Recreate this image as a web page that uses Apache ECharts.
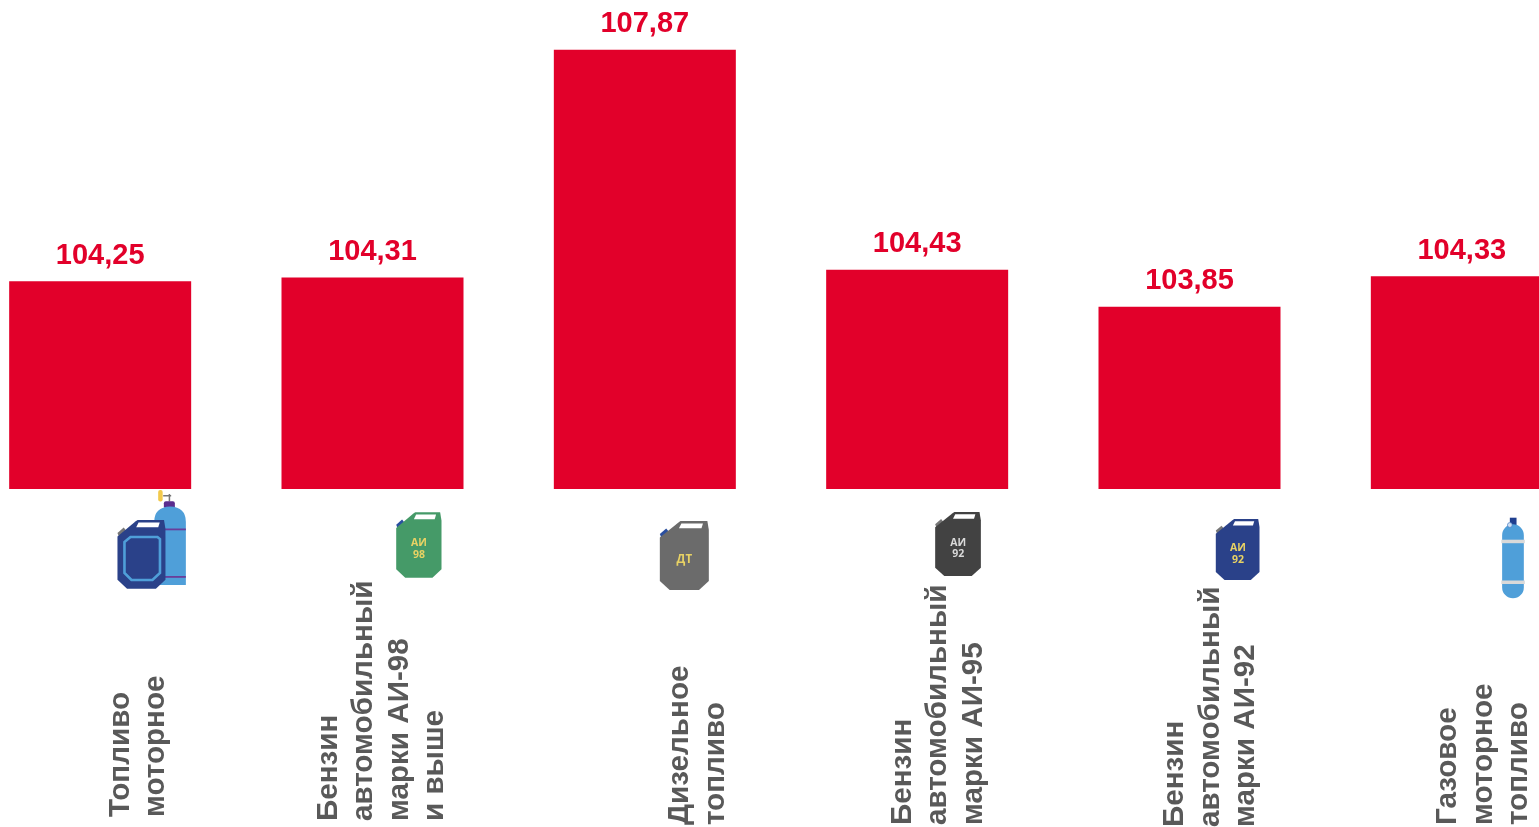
<!DOCTYPE html>
<html>
<head>
<meta charset="utf-8">
<style>html,body{margin:0;padding:0;background:#fff}#c{width:1539px;height:827px}</style>
<script src="https://cdn.jsdelivr.net/npm/echarts@6/dist/echarts.min.js"></script>
</head>
<body>
<div id="c"></div>
<script>
const categories = ['Топливо\nмоторное','Бензин\nавтомобильный\nмарки АИ-98\nи выше','Дизельное\nтопливо','Бензин\nавтомобильный\nмарки АИ-95','Бензин\nавтомобильный\nмарки АИ-92','Газовое\nмоторное\nтопливо'];
const values = [104.25,104.31,107.87,104.43,103.85,104.33];

// Layout only: offsets from each bar's centre / base
const labelDx = [38,9.5,53,21,21,21.5];
const labelDy = [328,332,336,336,338,336];
const CAN = [[0,.24],[.38,.02],[.42,0],[.97,0],[1,.13],[1,.87],[.8,1],[.2,1],[0,.87]];
const poly = (pts, fill) => ({type:'polygon', shape:{points:pts}, style:{fill}});
const rect = (x,y,width,height,fill,r) => ({type:'rect', shape:{x,y,width,height,r:r||0}, style:{fill}});

function can(x,y,w,h,body,capColor){
  const P = (a)=>a.map(p=>[x+p[0]*w,y+p[1]*h]);
  return [
    poly(P([[0,.19],[.13,.11],[.2,.17],[.04,.26]]),capColor),
    poly(P(CAN),body),
    poly(P([[.44,.035],[.88,.035],[.85,.105],[.39,.105]]),'#ffffff')
  ];
}
function canText(cx,cy,text,fill,size){
  return {type:'text', x:cx, y:cy, style:{text, fill, font:'bold '+size+'px "Open Sans", "Liberation Sans", sans-serif', align:'center', verticalAlign:'middle', lineHeight:size+1}};
}
function cylinder(x,y,w,h,fill){
  return {type:'path', shape:{pathData:`M${x} ${y+w/2}A${w/2} ${w/2} 0 0 1 ${x+w} ${y+w/2}L${x+w} ${y+h-w/2}A${w/2} ${w/2} 0 0 1 ${x} ${y+h-w/2}Z`}, style:{fill}};
}
const icons = [
  (cx,b)=>{ // fuel can + cylinder
    const X=cx-100, Y=b-489, el=[];
    el.push(rect(X+163,Y+495,8,1.5,'#777'),rect(X+168.5,Y+494,1.5,7.5,'#777'),rect(X+158,Y+490,4.5,11.5,'#f2c94c',2));
    el.push(rect(X+163.7,Y+501.3,11,7,'#5b2d8e',2));
    el.push({type:'path',shape:{pathData:`M${X+154} ${Y+522}Q${X+154} ${Y+507} ${X+170} ${Y+506.5}Q${X+185.7} ${Y+507} ${X+185.7} ${Y+522}L${X+185.7} ${Y+585}L${X+154} ${Y+585}Z`},style:{fill:'#4f9fd9'}});
    el.push(rect(X+160,Y+528.5,25.7,1.8,'#6a3d9a'),rect(X+160,Y+576,25.7,1.8,'#6a3d9a'));
    el.push(...can(X+117.3,Y+520,48,68.7,'#2a4189','#777777'));
    const a=X+117.3,t=Y+520;
    el.push({type:'polygon',shape:{points:[[a+7,t+22],[a+13,t+17],[a+40,t+17],[a+42.5,t+19],[a+42.5,t+53],[a+35,t+60],[a+14,t+60],[a+7,t+53]]},style:{fill:'#2a4189',stroke:'#4f9fd9',lineWidth:2.6}});
    return el;
  },
  (cx,b)=>{const X=cx-372,Y=b-489;return [...can(X+395.7,Y+512.3,45.3,65.4,'#459a68','#2a4fa0'),canText(X+418.5,Y+549,'АИ\n98','#e8d264',10.5)];},
  (cx,b)=>{const X=cx-645,Y=b-489;return [...can(X+660,Y+521,49,69,'#6b6b6b','#2a4fa0'),canText(X+684.5,Y+560,'ДТ','#e8d264',11.5)];},
  (cx,b)=>{const X=cx-917,Y=b-489;return [...can(X+935,Y+512,45.7,64,'#424242','#777777'),canText(X+958,Y+548.5,'АИ\n92','#d9d9d9',10.5)];},
  (cx,b)=>{const X=cx-1190,Y=b-489;return [...can(X+1216.3,Y+519,43.7,61,'#2a4189','#777777'),canText(X+1238.5,Y+554,'АИ\n92','#e8d264',10.5)];},
  (cx,b)=>{const X=cx-1462,Y=b-489;return [
    rect(X+1510,Y+517.7,6.7,8,'#1f3f8f'),
    cylinder(X+1502.3,Y+524.3,21.7,74,'#4f9fd9'),
    rect(X+1501.5,Y+539.7,23.5,3.5,'#d9d9d9'),rect(X+1501.5,Y+580.5,23.5,3.5,'#d9d9d9'),
    {type:'circle',shape:{cx:X+1510,cy:Y+525,r:2.4},style:{fill:'#cfe0f3',stroke:'#4f7fc4',lineWidth:.7}}
  ];}
];

const chart = echarts.init(document.getElementById('c'), null, {renderer:'canvas'});
chart.setOption({
  animation:false,
  backgroundColor:'#ffffff',
  grid:{left:-36, top:0, width:1634, height:489, containLabel:false, outerBoundsMode:'none'},
  xAxis:{type:'category', data:categories, axisLine:{show:false}, axisTick:{show:false}, axisLabel:{show:false}, splitLine:{show:false}},
  yAxis:{type:'value', min:101, max:108.65, show:false},
  series:[
    {type:'bar', data:values, barWidth:182, itemStyle:{color:'#e2002a'},
     label:{show:true, position:'top', distance:11, color:'#e2002a', fontFamily:'"Liberation Sans", Arial, sans-serif', fontWeight:'bold', fontSize:29,
       formatter:p=>p.value.toFixed(2).replace('.',',')}},
    {type:'custom', silent:true, clip:false, z:5,
     data:categories.map((c,i)=>[i,101]),
     encode:{x:0,y:1},
     renderItem:(params,api)=>{
       const i=params.dataIndex, pt=api.coord([i,101]);
       return {type:'group', children:[
         ...icons[i](pt[0],pt[1]),
         {type:'text', x:pt[0]+labelDx[i], y:pt[1]+labelDy[i], rotation:Math.PI/2,
          style:{text:categories[i], fill:'#595959', font:'bold 29.6px "Liberation Sans", Arial, sans-serif', align:'left', verticalAlign:'middle', lineHeight:35.5}}
       ]};
     }}
  ]
});
</script>
</body>
</html>
